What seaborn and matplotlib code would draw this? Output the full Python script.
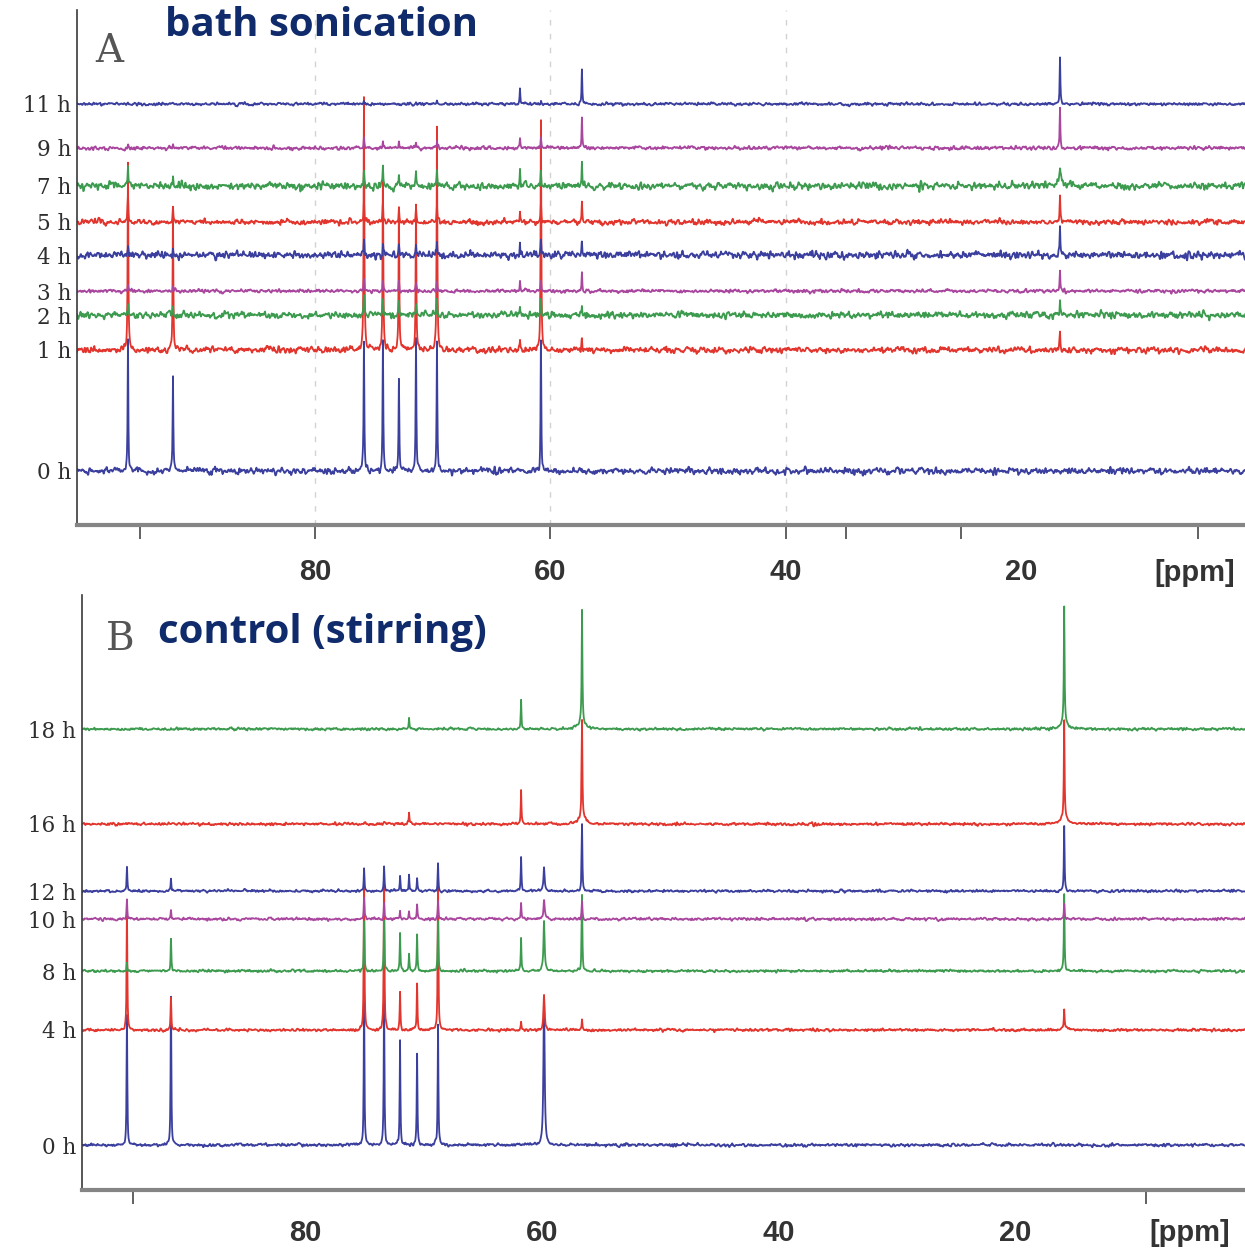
import numpy as np
import matplotlib
matplotlib.use("Agg")
import matplotlib.pyplot as plt
import seaborn as sns

# ---------------------------------------------------------------
# Panel A - bath sonication: 13C spectra stacked by reaction time
# ---------------------------------------------------------------
a_labels = ["0 h", "1 h", "2 h", "3 h", "4 h", "5 h", "7 h", "9 h", "11 h"]
a_offsets = [54, 175, 210, 234, 270, 303, 339, 377, 421]
a_colors = ["#3b3f9e", "#e2352d", "#3d9b4f", "#a9479f", "#3b3f9e",
            "#e2352d", "#3d9b4f", "#a9479f", "#3b3f9e"]
a_noise = [2.8, 2.6, 2.8, 1.5, 3.1, 2.3, 3.1, 1.6, 1.3]

# peak positions (ppm) and half-widths (ppm)
a_peak_ppm = [95.88, 92.06, 75.84, 74.23, 72.87, 71.42, 69.64, 62.59,
              60.81, 57.33, 16.73, 16.73]
a_peak_hw = [0.035, 0.035, 0.035, 0.035, 0.035, 0.035, 0.035, 0.035,
             0.035, 0.035, 0.035, 0.30]

# peak heights per spectrum (same order as a_peak_ppm)
a_0h = [130, 93, 130, 130, 90, 130, 130, 0, 130, 0, 0, 0]
a_1h = [188, 143, 250, 183, 143, 143, 223, 10, 230, 12, 18, 0]
a_2h = [10, 8, 18, 15, 12, 12, 15, 8, 15, 10, 17, 0]
a_3h = [6, 5, 12, 10, 8, 8, 10, 10, 10, 18, 20, 0]
a_4h = [8, 6, 15, 12, 10, 10, 12, 12, 12, 17, 30, 0]
a_5h = [28, 15, 20, 18, 15, 15, 18, 10, 20, 20, 27, 0]
a_7h = [22, 8, 15, 20, 13, 17, 15, 15, 15, 25, 12, 6]
a_9h = [4, 4, 10, 6, 5, 5, 8, 10, 10, 30, 40, 0]
a_11h = [0, 0, 3, 0, 0, 0, 3, 15, 3, 34, 47, 0]
a_heights = [a_0h, a_1h, a_2h, a_3h, a_4h, a_5h, a_7h, a_9h, a_11h]

# ---------------------------------------------------------------
# Panel B - control (stirring)
# ---------------------------------------------------------------
b_labels = ["0 h", "4 h", "8 h", "10 h", "12 h", "16 h", "18 h"]
b_offsets = [45, 160, 219, 271, 299, 366, 461]
b_colors = ["#3b3f9e", "#e2352d", "#3d9b4f", "#a9479f", "#3b3f9e",
            "#e2352d", "#3d9b4f"]
b_noise = [1.3, 1.2, 1.1, 1.2, 1.1, 1.2, 1.1]

b_peak_ppm = [95.05, 91.33, 75.01, 73.32, 71.97, 71.21, 70.53, 68.76,
              61.74, 59.80, 56.59, 15.84, 56.59, 15.84]
b_peak_hw = [0.035, 0.035, 0.035, 0.035, 0.035, 0.035, 0.035, 0.035,
             0.035, 0.06, 0.035, 0.035, 0.30, 0.30]

b_0h = [130, 148, 150, 150, 105, 0, 92, 120, 0, 150, 0, 0, 0, 0]
b_4h = [126, 33, 162, 162, 37, 0, 47, 162, 8, 34, 10, 17, 0, 3]
b_8h = [8, 33, 50, 50, 38, 17, 37, 50, 33, 50, 76, 77, 0, 0]
b_10h = [19, 8, 22, 17, 8, 8, 15, 18, 15, 20, 18, 15, 0, 0]
b_12h = [24, 12, 23, 25, 15, 15, 13, 28, 33, 23, 67, 66, 0, 0]
b_16h = [0, 0, 0, 0, 0, 12, 0, 0, 34, 0, 97, 97, 8, 8]
b_18h = [0, 0, 0, 0, 0, 12, 0, 0, 29, 0, 111, 114, 8, 8]
b_heights = [b_0h, b_4h, b_8h, b_10h, b_12h, b_16h, b_18h]

# ---------------------------------------------------------------
sns.set_style("white")
plt.rcParams["font.family"] = ["DejaVu Sans"]

W, H = 1245, 1248
fig = plt.figure(figsize=(W / 100, H / 100), dpi=100)


def px_axes(left, top, right, bottom):
    return fig.add_axes([left / W, 1 - bottom / H, (right - left) / W,
                         (bottom - top) / H])


rng = np.random.default_rng(11)
kernel = np.array([0.15, 0.35, 0.35, 0.15])


def spectrum(grid, ppm, hw, heights):
    y = np.zeros_like(grid)
    for p, w, h in zip(ppm, hw, heights):
        if h:
            y += h / (1.0 + ((grid - p) / w) ** 2)
    return y


def draw_panel(ax, xlim, ppm, hw, heights, offsets, colors, noise, labels):
    grid = np.union1d(np.linspace(xlim[1] - 0.5, xlim[0] + 0.5, 3000),
                      np.asarray(ppm))
    for h, off, c, nz in zip(heights, offsets, colors, noise):
        base_noise = np.convolve(rng.normal(size=grid.size), kernel, "same")
        y = off + spectrum(grid, ppm, hw, h) + nz * base_noise
        sns.lineplot(x=grid, y=y, ax=ax, color=c, lw=1.3,
                     estimator=None, sort=False, errorbar=None)
    ax.set_xlim(*xlim)
    ax.set_yticks(offsets)
    ax.set_yticklabels(labels, fontfamily="DejaVu Serif", fontsize=15.5,
                       color="#2e2e2e")
    ax.tick_params(axis="y", length=0, pad=4)
    ax.set_xlabel("")
    ax.set_ylabel("")
    for s in ("top", "right"):
        ax.spines[s].set_visible(False)
    ax.spines["left"].set_color("#3a3a3a")
    ax.spines["left"].set_linewidth(1.2)
    ax.spines["bottom"].set_color("#858585")
    ax.spines["bottom"].set_linewidth(3.0)
    ax.xaxis.remove_overlapping_locs = False
    ax.set_facecolor("white")


tick_font = dict(family=["Liberation Sans", "DejaVu Sans"],
                 weight="bold", size=21, color="#333333")

# ---- Panel A ----
axA = px_axes(77, 10, 1245, 525)
axA.set_ylim(0, 515)
for v in (80, 60, 40):
    axA.axvline(v, color="#d2d2d2", lw=1.0, ls=(0, (4, 6)), zorder=0)
draw_panel(axA, (100.21, 1.02), a_peak_ppm, a_peak_hw, a_heights,
           a_offsets, a_colors, a_noise, a_labels)
axA.set_xticks([80, 60, 40, 20])
axA.set_xticklabels(["80", "60", "40", "20"], fontdict=tick_font)
axA.set_xticks([94.9, 80, 60, 40, 34.9, 25.1, 5.0], minor=True)
axA.tick_params(axis="x", which="major", length=0, pad=24)
axA.tick_params(axis="x", which="minor", length=10, width=1.3,
                color="#555555", direction="out", bottom=True)
axA.text(0.028, 473, "A", transform=axA.get_yaxis_transform(),
         fontfamily="DejaVu Serif", fontsize=28, color="#555555",
         ha="center", va="center")

# ---- Panel B ----
axB = px_axes(82, 595, 1245, 1190)
axB.set_ylim(0, 595)
draw_panel(axB, (98.85, 0.56), b_peak_ppm, b_peak_hw, b_heights,
           b_offsets, b_colors, b_noise, b_labels)
axB.set_xticks([80, 60, 40, 20])
axB.set_xticklabels(["80", "60", "40", "20"], fontdict=tick_font)
axB.set_xticks([94.5, 8.9], minor=True)
axB.tick_params(axis="x", which="major", length=0, pad=21)
axB.tick_params(axis="x", which="minor", length=10, width=1.3,
                color="#555555", direction="out", bottom=True)
axB.text(0.033, 550, "B", transform=axB.get_yaxis_transform(),
         fontfamily="DejaVu Serif", fontsize=28, color="#555555",
         ha="center", va="center")

# unit labels
fig.text(1195 / W, 1 - 573 / H, "[ppm]", ha="center", va="center",
         fontdict=tick_font)
fig.text(1190 / W, 1 - 1233 / H, "[ppm]", ha="center", va="center",
         fontdict=tick_font)

# panel titles
title_kw = dict(family=["Open Sans", "DejaVu Sans"], weight="bold",
                size=29, color="#0f2b6b", ha="left", va="center")
fig.text(165 / W, 1 - 26 / H, "bath sonication", **title_kw)
fig.text(158 / W, 1 - 633 / H, "control (stirring)", **title_kw)

fig.savefig("out.png", dpi=100, facecolor="white")
